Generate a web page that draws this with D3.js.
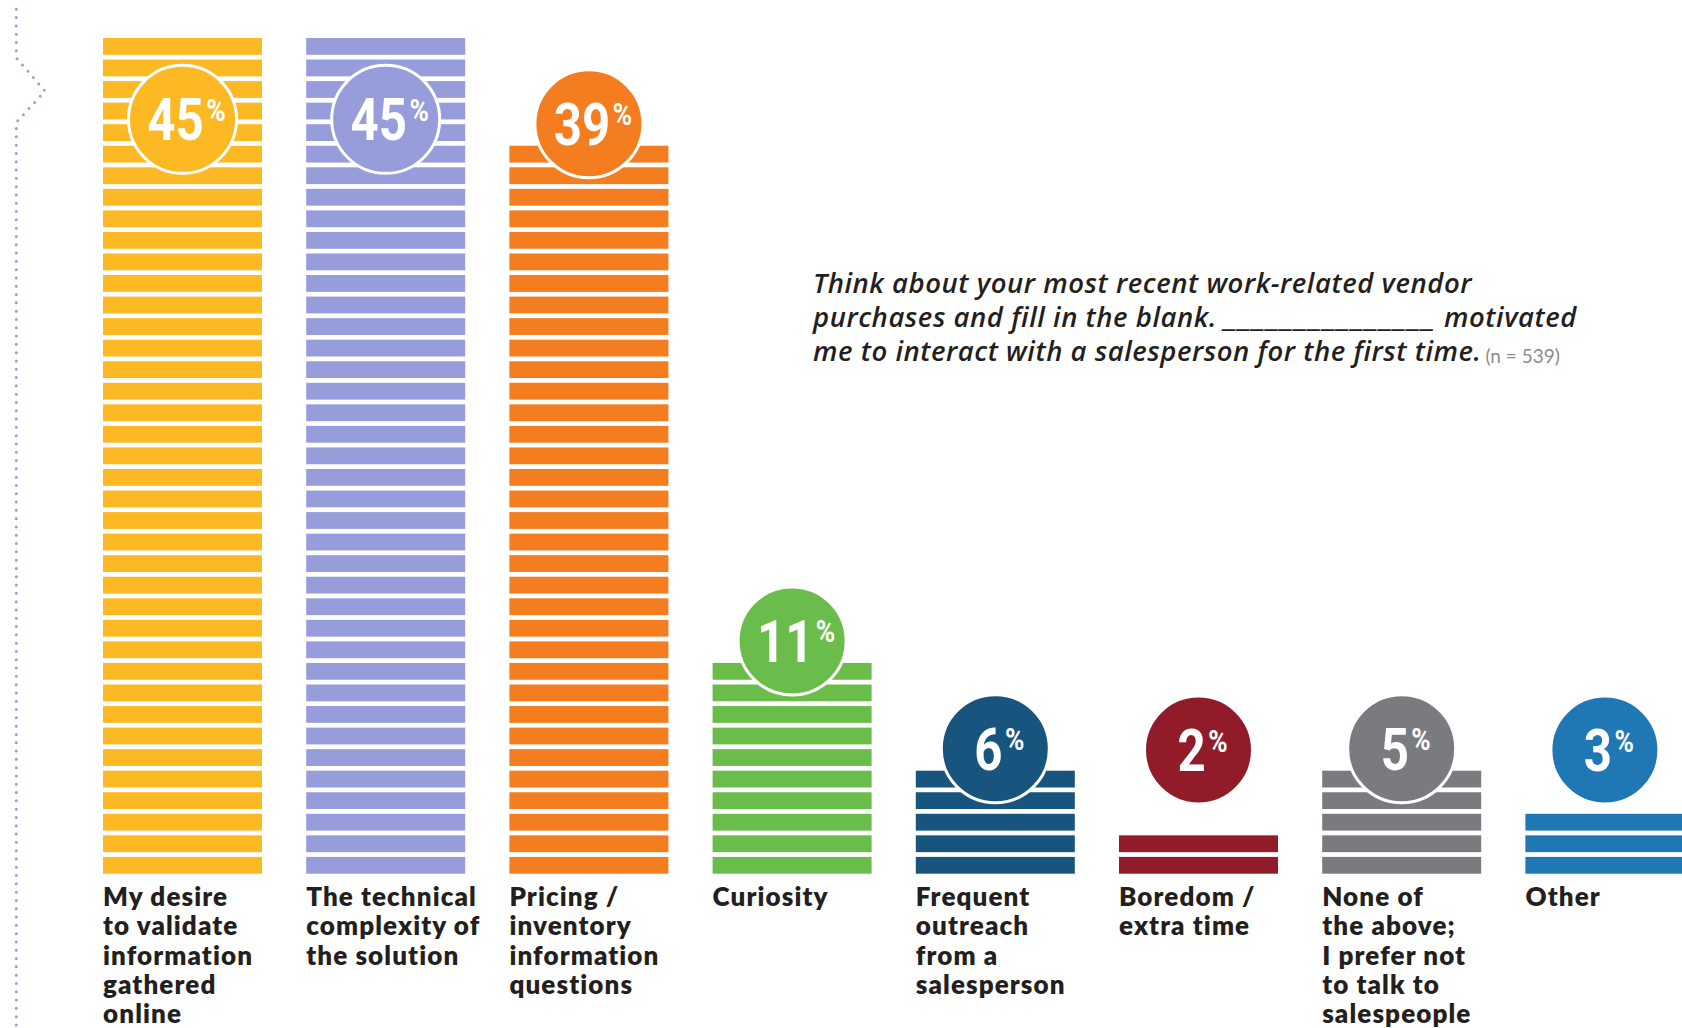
<!DOCTYPE html>
<html>
<head>
<meta charset="utf-8">
<script src="https://cdn.jsdelivr.net/npm/d3@7"></script>
<style>
  html, body { margin: 0; padding: 0; background: #ffffff; }
  svg { display: block; }
</style>
</head>
<body>
<svg id="chart" width="1682" height="1028"></svg>
<script>
// Survey answers: what first motivated buyers to talk to a salesperson
const categories = [
  ["My desire", "to validate", "information", "gathered", "online"],
  ["The technical", "complexity of", "the solution"],
  ["Pricing /", "inventory", "information", "questions"],
  ["Curiosity"],
  ["Frequent", "outreach", "from a", "salesperson"],
  ["Boredom /", "extra time"],
  ["None of", "the above;", "I prefer not", "to talk to", "salespeople"],
  ["Other"]
];
const values = [45, 45, 39, 11, 6, 2, 5, 3];
const barColors = ["#FDB924", "#979CDA", "#F47D20", "#6ABD4B", "#17557F", "#921B29", "#7A7B7F", "#1F77B4"];

const questionStart = "Think about your most recent work-related vendor";
const questionBlankBefore = "purchases and fill in the blank.";
const questionBlankAfter = "motivated";
const questionEnd = "me to interact with a salesperson for the first time.";
const sampleNote = "(n = 539)";

const svg = d3.select("#chart");

// layout constants
const baseY = 873.7;      // bottom of the stacked stripes
const topY = 38;          // top of the tallest bar
const stripeH = 16.8;
const pitch = 21.55;
const circleR = 54;

const x = d3.scaleBand()
  .domain(d3.range(values.length))
  .range([103, 1684.4])
  .paddingInner(0.2175)
  .paddingOuter(0);

const y = d3.scaleLinear()
  .domain([0, d3.max(values)])
  .range([baseY, topY]);

// decorative dotted guide on the left edge
svg.append("path")
  .attr("d", "M16.3,9.3 V58 L45,91 L16.3,122.5 V1028")
  .attr("fill", "none")
  .attr("stroke", "#9A9EDC")
  .attr("stroke-width", 3)
  .attr("stroke-linecap", "round")
  .attr("stroke-dasharray", "0 8.3");

const data = values.map((v, i) => {
  const h = baseY - y(v);
  const n = Math.max(1, Math.round((h + (pitch - stripeH)) / pitch));
  return { i, v, n, color: barColors[i], lines: categories[i] };
});

const bars = svg.append("g").selectAll("g.bar")
  .data(data)
  .join("g")
  .attr("class", "bar");

// horizontal stripes forming each bar
bars.selectAll("rect")
  .data(d => d3.range(d.n).map(k => ({ k, d })))
  .join("rect")
  .attr("x", s => x(s.d.i))
  .attr("width", x.bandwidth())
  .attr("y", s => baseY - stripeH - s.k * pitch)
  .attr("height", stripeH)
  .attr("fill", s => s.d.color);

// value badges
const badge = bars.append("g")
  .attr("transform", d => {
    const barTop = baseY - stripeH - (d.n - 1) * pitch;
    const cy = Math.max(119.3, Math.min(barTop - 22, 750));
    return `translate(${x(d.i) + x.bandwidth() / 2},${cy})`;
  });

badge.append("circle")
  .attr("r", circleR)
  .attr("fill", d => d.color)
  .attr("stroke", "#ffffff")
  .attr("stroke-width", 3);

const num = badge.append("text")
  .attr("transform", "translate(4,0) scale(0.82,1)")
  .attr("text-anchor", "middle")
  .attr("fill", "#ffffff")
  .attr("font-family", "Roboto, 'DejaVu Sans', sans-serif")
  .attr("font-weight", 700);

num.append("tspan")
  .attr("y", 21)
  .attr("font-size", 60)
  .text(d => d.v);

num.append("tspan")
  .attr("dx", 3)
  .attr("dy", -19.5)
  .attr("font-size", 32)
  .text("%");

// category labels under each bar
const label = bars.append("text")
  .attr("fill", "#231F20")
  .attr("font-family", "Lato, 'Open Sans', sans-serif")
  .attr("font-weight", 800)
  .attr("font-size", 26)
  .attr("letter-spacing", 1.1);

label.selectAll("tspan")
  .data(d => d.lines.map((t, j) => ({ t, j, x: x(d.i) })))
  .join("tspan")
  .attr("x", l => l.x)
  .attr("y", l => 906 + l.j * 29.3)
  .text(l => l.t);

// survey question
const qX = 813, qY = 293.3, qStep = 33.6;
const qLine1Width = 659, qLine2End = 1577;
const q = svg.append("g")
  .attr("fill", "#231F20")
  .attr("font-family", "'Open Sans', Lato, sans-serif")
  .attr("font-style", "italic")
  .attr("font-weight", 600)
  .attr("font-size", 27.5);

const l1 = q.append("text").attr("x", qX).attr("y", qY).text(questionStart);
// spread the letters so the first line spans the text block width
const ls = Math.max(0, (qLine1Width - l1.node().getComputedTextLength()) / questionStart.length);
q.attr("letter-spacing", ls);

const l2 = q.append("text").attr("x", qX).attr("y", qY + qStep);
const before = l2.append("tspan").text(questionBlankBefore + " ");
const blank = l2.append("tspan").text("_______________");
const after = l2.append("tspan").text(" " + questionBlankAfter);
const blankLen = qLine2End - qX
  - before.node().getComputedTextLength()
  - after.node().getComputedTextLength();
blank.attr("textLength", Math.max(40, blankLen)).attr("lengthAdjust", "spacingAndGlyphs");

const l3 = q.append("text").attr("x", qX).attr("y", qY + 2 * qStep).text(questionEnd);

const l3w = l3.node().getComputedTextLength();
svg.append("text")
  .attr("x", qX + l3w + 4)
  .attr("y", qY + 2 * qStep + 2)
  .attr("fill", "#8C8C8C")
  .attr("font-family", "Lato, 'Open Sans', sans-serif")
  .attr("font-size", 19)
  .text(sampleNote);
</script>
</body>
</html>
